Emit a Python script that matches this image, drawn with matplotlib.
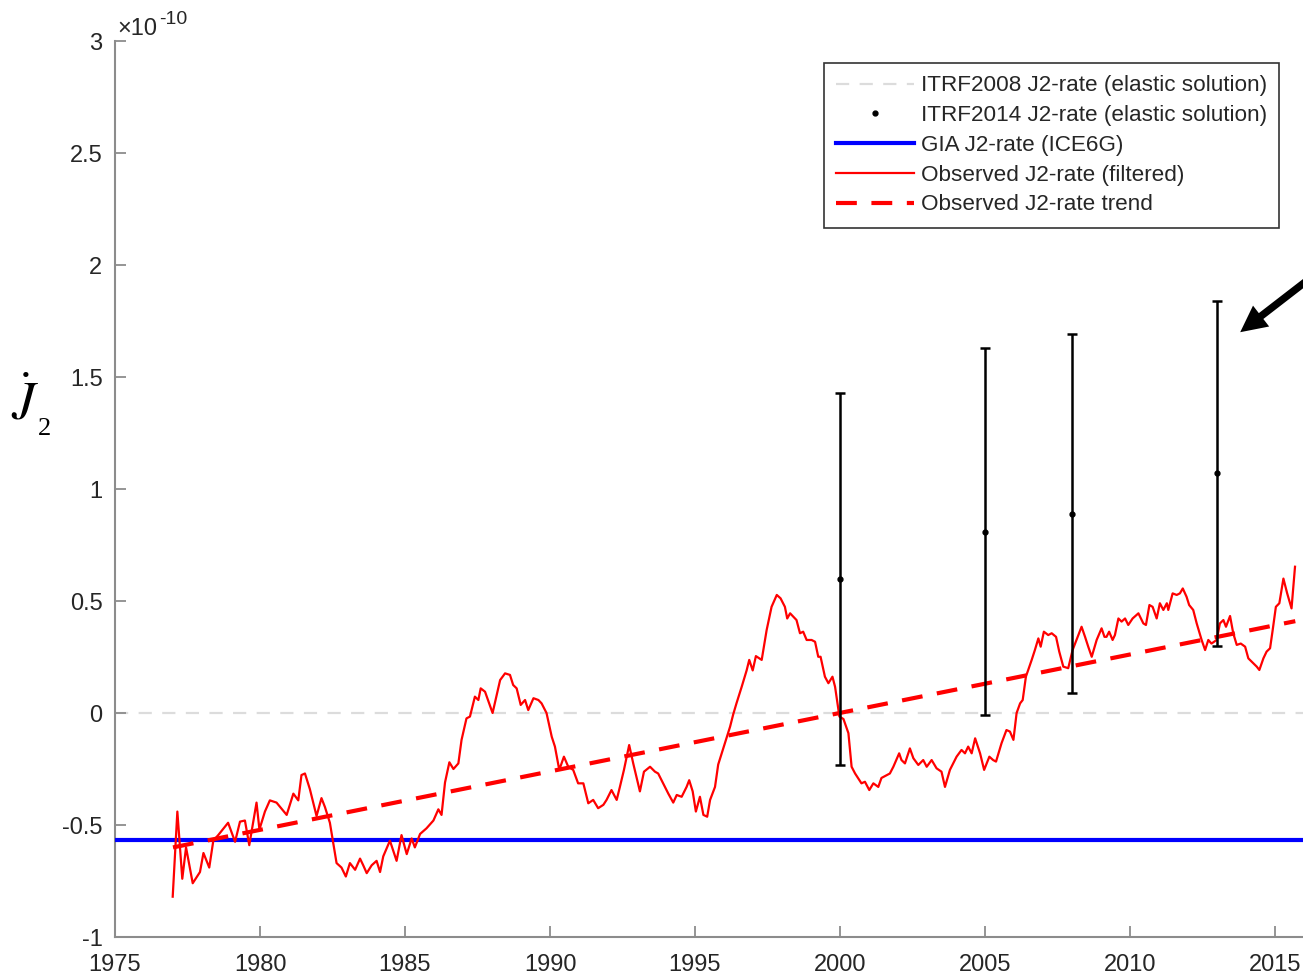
import matplotlib
matplotlib.use("Agg")
import matplotlib.pyplot as plt

plt.rcParams['font.family'] = ['Liberation Sans', 'DejaVu Sans']
plt.rcParams['axes.unicode_minus'] = False
plt.rcParams['lines.scale_dashes'] = False

TEXT_COLOR = '#262626'
AXIS_COLOR = '#8c8c8c'

# observed J2-rate (filtered), in units of 1e-10
obs_years = [
    1976.99, 1977.15, 1977.32, 1977.45, 1977.68, 1977.93, 1978.05, 1978.25, 1978.39, 1978.56,
    1978.90, 1979.14, 1979.31, 1979.48, 1979.63, 1979.88, 1979.98, 1980.17, 1980.34, 1980.57,
    1980.92, 1981.15, 1981.32, 1981.43, 1981.55, 1981.72, 1981.95, 1982.12, 1982.24, 1982.41,
    1982.64, 1982.81, 1982.96, 1983.10, 1983.28, 1983.45, 1983.56, 1983.68, 1983.85, 1984.02,
    1984.14, 1984.25, 1984.48, 1984.71, 1984.88, 1985.06, 1985.23, 1985.34, 1985.52, 1985.74,
    1985.98, 1986.15, 1986.26, 1986.38, 1986.53, 1986.67, 1986.84, 1986.95, 1987.12, 1987.24,
    1987.41, 1987.53, 1987.61, 1987.76, 1988.02, 1988.28, 1988.45, 1988.62, 1988.73, 1988.85,
    1988.99, 1989.14, 1989.25, 1989.43, 1989.60, 1989.71, 1989.88, 1990.06, 1990.17, 1990.32,
    1990.48, 1990.63, 1990.80, 1990.97, 1991.15, 1991.32, 1991.49, 1991.66, 1991.84, 1991.95,
    1992.12, 1992.30, 1992.41, 1992.55, 1992.73, 1992.87, 1993.10, 1993.24, 1993.45, 1993.62,
    1993.73, 1993.90, 1994.08, 1994.25, 1994.37, 1994.54, 1994.71, 1994.80, 1994.92, 1995.03,
    1995.17, 1995.29, 1995.42, 1995.52, 1995.69, 1995.80, 1996.03, 1996.21, 1996.32, 1996.43,
    1996.61, 1996.78, 1996.87, 1996.99, 1997.10, 1997.30, 1997.47, 1997.64, 1997.82, 1997.95,
    1998.10, 1998.18, 1998.28, 1998.50, 1998.62, 1998.73, 1998.85, 1999.02, 1999.14, 1999.25,
    1999.33, 1999.48, 1999.60, 1999.74, 1999.83, 1999.98, 2000.12, 2000.29, 2000.40, 2000.52,
    2000.74, 2000.86, 2001.01, 2001.15, 2001.32, 2001.43, 2001.72, 2001.84, 2002.04, 2002.12,
    2002.24, 2002.41, 2002.53, 2002.70, 2002.87, 2002.99, 2003.16, 2003.33, 2003.50, 2003.62,
    2003.79, 2004.02, 2004.19, 2004.31, 2004.42, 2004.54, 2004.66, 2004.83, 2004.97, 2005.15,
    2005.28, 2005.38, 2005.57, 2005.74, 2005.86, 2005.98, 2006.09, 2006.21, 2006.30, 2006.41,
    2006.61, 2006.72, 2006.84, 2006.92, 2007.03, 2007.18, 2007.30, 2007.45, 2007.56, 2007.70,
    2007.87, 2008.02, 2008.22, 2008.33, 2008.45, 2008.56, 2008.68, 2008.85, 2009.02, 2009.12,
    2009.19, 2009.28, 2009.40, 2009.48, 2009.60, 2009.71, 2009.83, 2009.94, 2010.09, 2010.29,
    2010.46, 2010.55, 2010.67, 2010.78, 2010.92, 2011.03, 2011.15, 2011.27, 2011.32, 2011.47,
    2011.61, 2011.72, 2011.82, 2011.95, 2012.04, 2012.18, 2012.30, 2012.47, 2012.59, 2012.70,
    2012.81, 2012.99, 2013.10, 2013.22, 2013.31, 2013.45, 2013.56, 2013.68, 2013.82, 2013.97,
    2014.08, 2014.25, 2014.37, 2014.46, 2014.60, 2014.71, 2014.83, 2014.92, 2015.03, 2015.15,
    2015.29, 2015.42, 2015.57, 2015.69,
]
obs_vals = [
    -0.82, -0.44, -0.74, -0.60, -0.76, -0.71, -0.625, -0.69, -0.57, -0.545,
    -0.49, -0.575, -0.485, -0.48, -0.59, -0.40, -0.52, -0.44, -0.39, -0.40,
    -0.455, -0.36, -0.39, -0.277, -0.27, -0.34, -0.46, -0.38, -0.42, -0.49,
    -0.67, -0.69, -0.73, -0.67, -0.70, -0.65, -0.68, -0.715, -0.68, -0.66,
    -0.71, -0.64, -0.57, -0.66, -0.545, -0.63, -0.56, -0.60, -0.54, -0.515,
    -0.48, -0.43, -0.455, -0.31, -0.22, -0.25, -0.225, -0.12, -0.024, -0.016,
    0.073, 0.058, 0.11, 0.095, 0.0, 0.147, 0.177, 0.17, 0.125, 0.11,
    0.036, 0.058, 0.013, 0.066, 0.058, 0.043, 0.0, -0.106, -0.15, -0.254,
    -0.195, -0.24, -0.254, -0.314, -0.314, -0.403, -0.388, -0.425, -0.41, -0.388,
    -0.344, -0.388, -0.33, -0.254, -0.143, -0.225, -0.35, -0.262, -0.24, -0.262,
    -0.27, -0.314, -0.36, -0.40, -0.366, -0.374, -0.33, -0.30, -0.35, -0.44,
    -0.374, -0.455, -0.463, -0.388, -0.33, -0.23, -0.135, -0.061, -0.005, 0.043,
    0.117, 0.19, 0.237, 0.19, 0.254, 0.237, 0.37, 0.474, 0.527, 0.512,
    0.474, 0.422, 0.445, 0.415, 0.356, 0.363, 0.326, 0.326, 0.318, 0.251,
    0.251, 0.162, 0.133, 0.162, 0.117, -0.016, -0.027, -0.09, -0.24, -0.27,
    -0.314, -0.307, -0.344, -0.314, -0.33, -0.29, -0.27, -0.24, -0.18, -0.21,
    -0.225, -0.158, -0.202, -0.232, -0.21, -0.24, -0.21, -0.247, -0.262, -0.33,
    -0.254, -0.195, -0.165, -0.18, -0.15, -0.18, -0.113, -0.18, -0.254, -0.195,
    -0.21, -0.217, -0.135, -0.076, -0.083, -0.12, 0.0, 0.043, 0.058, 0.162,
    0.237, 0.281, 0.333, 0.296, 0.363, 0.348, 0.356, 0.34, 0.274, 0.207,
    0.2, 0.281, 0.348, 0.385, 0.34, 0.296, 0.251, 0.326, 0.378, 0.34,
    0.34, 0.363, 0.326, 0.348, 0.422, 0.408, 0.422, 0.393, 0.422, 0.445,
    0.40, 0.393, 0.482, 0.474, 0.422, 0.49, 0.46, 0.49, 0.46, 0.534,
    0.527, 0.534, 0.556, 0.519, 0.482, 0.46, 0.40, 0.326, 0.281, 0.326,
    0.31, 0.326, 0.40, 0.415, 0.385, 0.433, 0.356, 0.304, 0.31, 0.296,
    0.244, 0.222, 0.207, 0.192, 0.244, 0.274, 0.289, 0.37, 0.474, 0.49,
    0.60, 0.534, 0.467, 0.653,
]

# linear trend of the observed rate
trend_years = [1977.0, 2015.7]
trend_vals = [-0.60, 0.41]

gia_val = -0.567       # ICE6G
itrf2008_val = 0.0

itrf2014_years = [2000, 2005, 2008, 2013]
itrf2014_vals = [0.60, 0.81, 0.89, 1.07]
itrf2014_errs = [0.83, 0.82, 0.80, 0.77]

year_ticks = [1975, 1980, 1985, 1990, 1995, 2000, 2005, 2010, 2015]
val_ticks = [-1, -0.5, 0, 0.5, 1, 1.5, 2, 2.5, 3]
val_tick_labels = ['-1', '-0.5', '0', '0.5', '1', '1.5', '2', '2.5', '3']

W, H = 1303, 976
fig = plt.figure(figsize=(W / 100, H / 100), dpi=100)
# axes runs past the right edge of the picture (cropped figure)
ax = fig.add_axes([115 / W, 39 / H, 1218 / W, 896 / H])

h2008 = ax.axhline(itrf2008_val, color='#dcdcdc', lw=1.6, dashes=(9.5, 7.5),
                   label='ITRF2008 J2-rate (elastic solution)', zorder=1)
ax.errorbar(itrf2014_years, itrf2014_vals, yerr=itrf2014_errs, fmt='none',
            ecolor='black', elinewidth=1.8, capsize=3.5, capthick=1.8, zorder=6)
h2014, = ax.plot(itrf2014_years, itrf2014_vals, '.', color='black', ms=7,
                 label='ITRF2014 J2-rate (elastic solution)', zorder=7)
hgia = ax.axhline(gia_val, color='#0000ff', lw=3, label='GIA J2-rate (ICE6G)', zorder=3)
hobs, = ax.plot(obs_years, obs_vals, color='#ff0000', lw=1.6,
                label='Observed J2-rate (filtered)', zorder=4)
htrend, = ax.plot(trend_years, trend_vals, color='#ff0000', lw=3, dashes=(15, 10.5),
                  label='Observed J2-rate trend', zorder=5)

ax.set_xlim(1975, 2017)
ax.set_ylim(-1, 3)
ax.set_xticks(year_ticks)
ax.set_xticklabels([str(y) for y in year_ticks])
ax.set_yticks(val_ticks)
ax.set_yticklabels(val_tick_labels)

for side in ['top', 'right']:
    ax.spines[side].set_visible(False)
for side in ['left', 'bottom']:
    ax.spines[side].set_color(AXIS_COLOR)
    ax.spines[side].set_linewidth(1.5)
ax.tick_params(direction='in', length=8, width=1.3, color=AXIS_COLOR,
               labelcolor=TEXT_COLOR, labelsize=17)
ax.tick_params(axis='y', pad=9)
ax.tick_params(axis='x', pad=12)

# scale factor above the y axis
fig.text(117 / W, 1 - 35 / H, '\u00d710', fontsize=17, color=TEXT_COLOR, va='baseline')
fig.text(159 / W, 1 - 24 / H, '-10', fontsize=14, color=TEXT_COLOR, va='baseline')

# y label: J dot with subscript 2
fig.text(11 / W, 1 - 420 / H, r'$\dot{J}$', fontsize=38, math_fontfamily='stix',
         color='black', va='baseline')
fig.text(38 / W, 1 - 435 / H, '2', fontsize=19, family='Liberation Serif',
         color='black', va='baseline')

leg = ax.legend(handles=[h2008, h2014, hgia, hobs, htrend],
                loc='upper left', bbox_to_anchor=(824 / W, 1 - 63 / H),
                bbox_transform=fig.transFigure, borderaxespad=0,
                fontsize=16.2, handlelength=3.45, handletextpad=0.3,
                labelspacing=0.39, borderpad=0.55, numpoints=1,
                fancybox=False, framealpha=1, edgecolor='#333333')
leg.get_frame().set_linewidth(1.2)
for t in leg.get_texts():
    t.set_color(TEXT_COLOR)

# arrow pointing at the ITRF2014 error bar
ax.annotate('', xy=(2013.8, 1.70), xytext=(2017.3, 2.05), annotation_clip=False,
            arrowprops=dict(arrowstyle='simple,head_length=0.5,head_width=0.5,tail_width=0.14',
                            mutation_scale=38, color='black', lw=0,
                            shrinkA=0, shrinkB=0))

fig.savefig('out.png', dpi=100)
